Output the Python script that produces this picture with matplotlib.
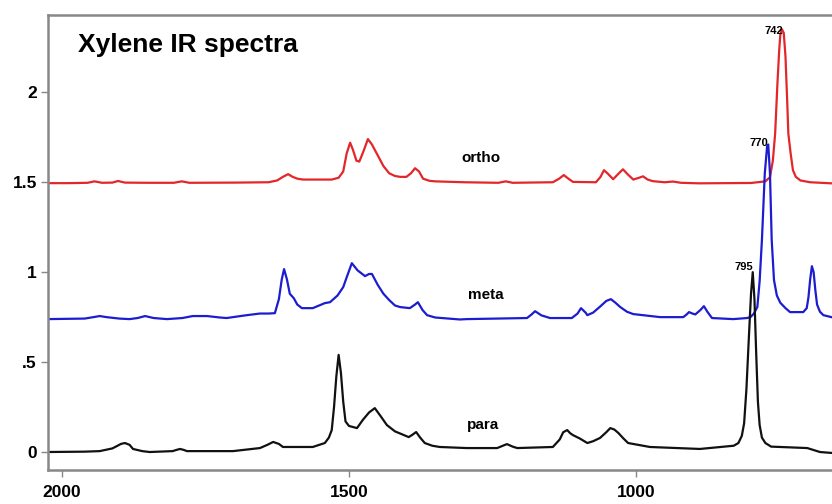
import matplotlib
matplotlib.use('Agg')
import matplotlib.pyplot as plt

plt.rcParams['font.family'] = ['Liberation Sans', 'DejaVu Sans']
plt.rcParams['font.weight'] = 'bold'

# wavenumber (cm-1) and absorbance, ortho offset +1.5, meta +0.74
ortho_w = [2025, 1990, 1955, 1943, 1930, 1912, 1902, 1890, 1850, 1805, 1791, 1778,
           1700, 1640, 1625, 1615, 1606, 1598, 1590, 1580, 1530, 1518, 1510, 1504,
           1498, 1493, 1487, 1482, 1475, 1467, 1460, 1450, 1440, 1430, 1420, 1411,
           1400, 1392, 1385, 1378, 1371, 1360, 1350, 1300, 1240, 1227, 1215, 1145,
           1134, 1126, 1118, 1110, 1070, 1062, 1056, 1050, 1040, 1030, 1023, 1015,
           1005, 995, 988, 980, 971, 950, 936, 922, 890, 800, 775, 767, 762, 758,
           754, 751, 749, 746, 743, 740, 737, 735, 731, 727, 722, 714, 697, 660]
ortho_a = [1.495, 1.495, 1.497, 1.505, 1.497, 1.498, 1.507, 1.498, 1.497, 1.497, 1.505, 1.497,
           1.498, 1.500, 1.510, 1.530, 1.545, 1.530, 1.520, 1.515, 1.515, 1.525, 1.560, 1.660,
           1.720, 1.680, 1.620, 1.615, 1.670, 1.740, 1.710, 1.650, 1.590, 1.550, 1.535, 1.530,
           1.530, 1.550, 1.578, 1.560, 1.520, 1.508, 1.505, 1.500, 1.497, 1.505, 1.497, 1.500,
           1.520, 1.540, 1.520, 1.502, 1.500, 1.530, 1.567, 1.550, 1.517, 1.550, 1.572, 1.545,
           1.515, 1.525, 1.533, 1.515, 1.506, 1.500, 1.504, 1.497, 1.494, 1.496, 1.505, 1.528, 1.620, 1.770,
           2.050, 2.230, 2.320, 2.350, 2.330, 2.200, 1.950, 1.770, 1.660, 1.567, 1.530, 1.510, 1.500, 1.494]

meta_w = [2025, 1960, 1945, 1934, 1922, 1900, 1882, 1868, 1855, 1840, 1817, 1790,
          1772, 1747, 1725, 1713, 1680, 1655, 1640, 1629, 1622, 1617, 1613, 1608,
          1603, 1596, 1590, 1582, 1563, 1542, 1533, 1520, 1510, 1503, 1495, 1485,
          1472, 1465, 1460, 1450, 1440, 1430, 1420, 1411, 1394, 1385, 1380, 1372,
          1364, 1350, 1307, 1295, 1190, 1182, 1176, 1165, 1150, 1112, 1102, 1096,
          1088, 1085, 1075, 1063, 1052, 1044, 1036, 1028, 1016, 1005, 958, 918,
          912, 908, 902, 897, 888, 882, 876, 868, 831, 807, 801, 795, 789, 785,
          781, 776, 772, 770, 767, 764, 760, 755, 749, 740, 732, 709, 703, 700,
          697, 694, 691, 688, 685, 680, 674, 660]
meta_a = [0.739, 0.742, 0.750, 0.756, 0.750, 0.742, 0.739, 0.745, 0.756, 0.745, 0.739, 0.745,
          0.756, 0.756, 0.748, 0.745, 0.760, 0.770, 0.770, 0.772, 0.850, 0.960, 1.017, 0.960,
          0.880, 0.855, 0.820, 0.800, 0.800, 0.828, 0.833, 0.870, 0.917, 0.980, 1.050, 1.010,
          0.978, 0.990, 0.990, 0.930, 0.880, 0.845, 0.815, 0.806, 0.800, 0.820, 0.833, 0.790,
          0.761, 0.748, 0.737, 0.739, 0.745, 0.765, 0.783, 0.760, 0.745, 0.745, 0.770, 0.800,
          0.775, 0.761, 0.775, 0.808, 0.840, 0.850, 0.830, 0.807, 0.780, 0.767, 0.750, 0.750,
          0.765, 0.778, 0.770, 0.765, 0.790, 0.811, 0.780, 0.745, 0.739, 0.745,
          0.750, 0.770, 0.806, 0.950, 1.180, 1.550, 1.700, 1.710, 1.550, 1.180, 0.956, 0.870,
          0.830, 0.800, 0.778, 0.778, 0.800, 0.860,
          0.960, 1.033, 1.000, 0.900, 0.820, 0.780, 0.761, 0.750]

para_w = [2025, 1960, 1934, 1912, 1904, 1897, 1890, 1882, 1876, 1860, 1847, 1807,
          1800, 1794, 1788, 1782, 1702, 1655, 1642, 1632, 1622, 1615, 1563, 1542,
          1535, 1530, 1526, 1522, 1518, 1514, 1510, 1506, 1500, 1486, 1476, 1465,
          1455, 1445, 1434, 1420, 1405, 1396, 1390, 1383, 1376, 1368, 1355, 1342,
          1295, 1242, 1232, 1225, 1215, 1207, 1145, 1133, 1127, 1120, 1115, 1110,
          1098, 1085, 1075, 1063, 1052, 1045, 1038, 1031, 1022, 1014, 976, 889,
          830, 822, 816, 812, 808, 804, 800, 797, 794, 791, 788, 785, 781, 775,
          765, 702, 680, 660]
para_a = [0.000, 0.002, 0.005, 0.020, 0.033, 0.045, 0.050, 0.040, 0.017, 0.005, 0.000, 0.005,
          0.012, 0.017, 0.012, 0.005, 0.005, 0.022, 0.040, 0.056, 0.045, 0.028, 0.028, 0.050,
          0.080, 0.122, 0.250, 0.420, 0.540, 0.440, 0.280, 0.170, 0.145, 0.133, 0.178, 0.220,
          0.244, 0.200, 0.150, 0.115, 0.095, 0.083, 0.095, 0.111, 0.080, 0.050, 0.035, 0.028,
          0.022, 0.022, 0.035, 0.044, 0.030, 0.022, 0.028, 0.070, 0.110,
          0.122, 0.105, 0.094, 0.075, 0.050, 0.060, 0.078, 0.110, 0.133, 0.125, 0.106, 0.075, 0.050,
          0.028, 0.017, 0.035, 0.050, 0.090, 0.160, 0.350, 0.620, 0.880, 1.000, 0.850, 0.550,
          0.280, 0.150, 0.080, 0.050, 0.030, 0.022, 0.000, -0.005]

series_names = ['ortho', 'meta', 'para']
name_pos = [(1270, 1.633), (1262, 0.872), (1266, 0.150)]
peak_labels = ['742', '770', '795']
peak_pos = [(760, 2.34), (786, 1.72), (812, 1.03)]
y_ticks = [0, 0.5, 1, 1.5, 2]
y_tick_labels = ['0', '.5', '1', '1.5', '2']
x_ticks = [2000, 1500, 1000]

fig = plt.figure(figsize=(8.32, 5.04), dpi=100)
ax = fig.add_axes([48 / 832, 34 / 504, 1 - 48 / 832, (470 - 15) / 504])

ax.plot(ortho_w, ortho_a, color='#e3262a', lw=1.6)
ax.plot(meta_w, meta_a, color='#1c1cd0', lw=1.6)
ax.plot(para_w, para_a, color='#111111', lw=1.6)

ax.set_xlim(2024, 659)
ax.set_ylim(-0.1, 2.43)

for name, (x, y) in zip(series_names, name_pos):
    ax.text(x, y, name, fontsize=11, fontweight='bold', ha='center', va='center')
for lab, (x, y) in zip(peak_labels, peak_pos):
    ax.text(x, y, lab, fontsize=8, fontweight='bold', ha='center', va='center')

ax.set_xticks(x_ticks)
ax.set_xticklabels([str(t) for t in x_ticks])
ax.set_yticks(y_ticks)
ax.set_yticklabels(y_tick_labels)
ax.tick_params(axis='both', colors='#888888', labelcolor='black', length=5, width=1,
               labelsize=12.5)
ax.tick_params(axis='x', pad=6)
ax.tick_params(axis='y', pad=3)
for lbl in ax.get_xticklabels() + ax.get_yticklabels():
    lbl.set_fontweight('bold')

for side in ['left', 'top', 'bottom']:
    ax.spines[side].set_color('#888888')
    ax.spines[side].set_linewidth(1.8)
ax.spines['right'].set_visible(False)

fig.text(78 / 832, 1 - 52 / 504, 'Xylene IR spectra', fontsize=19, fontweight='bold',
         ha='left', va='baseline')

fig.savefig('out.png', dpi=100)
